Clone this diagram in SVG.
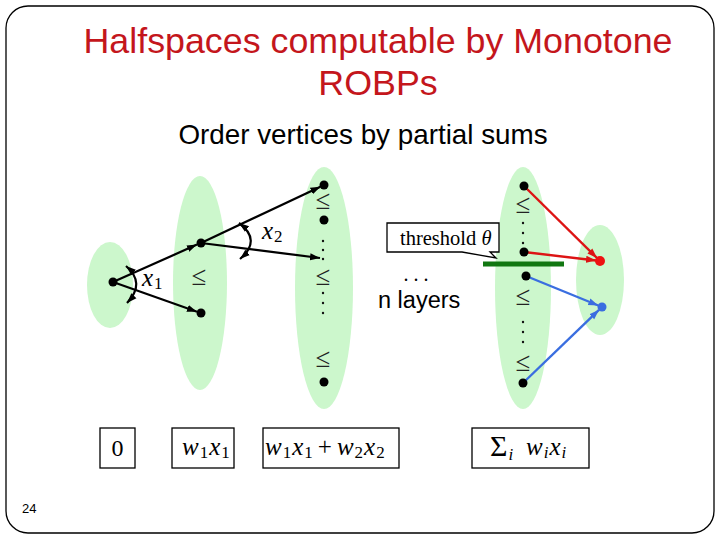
<svg xmlns="http://www.w3.org/2000/svg" width="720" height="540" viewBox="0 0 720 540">
<style>
.sans{font-family:"Liberation Sans",Arial,sans-serif}
.ser{font-family:"Liberation Serif","Times New Roman",serif}
.it{font-family:"Liberation Serif","Times New Roman",serif;font-style:italic}
.layer{fill:#ccf7cc;stroke:none}
.dot{fill:#000}
.le{font-family:"Liberation Serif","DejaVu Serif",serif;font-size:27px;fill:#222;text-anchor:middle}
.vd{fill:#111}
.box{fill:#fff;stroke:#000;stroke-width:1.3}
.arr{fill:none;stroke:#000;stroke-width:2.2}
.red{fill:none;stroke:#dd1414;stroke-width:2.4}
.blue{fill:none;stroke:#3a6ee0;stroke-width:2.4}
.sub{font-style:normal;font-size:17px}
.isub{font-size:17px}
</style>
<defs>
<marker id="ah" markerUnits="userSpaceOnUse" markerWidth="11" markerHeight="9" viewBox="0 0 11 9" refX="10" refY="4.5" orient="auto-start-reverse"><path d="M0,1 L10,4.5 L0,8 Z" fill="#000"/></marker>
<marker id="ahr" markerUnits="userSpaceOnUse" markerWidth="11" markerHeight="9" viewBox="0 0 11 9" refX="10" refY="4.5" orient="auto"><path d="M0,1 L10,4.5 L0,8 Z" fill="#dd1414"/></marker>
<marker id="ahb" markerUnits="userSpaceOnUse" markerWidth="11" markerHeight="9" viewBox="0 0 11 9" refX="10" refY="4.5" orient="auto"><path d="M0,1 L10,4.5 L0,8 Z" fill="#3a6ee0"/></marker>
</defs>

<rect id="frame" x="6" y="6" width="708" height="527" rx="22" ry="22" fill="#fff" stroke="#000" stroke-width="1.3"/>

<g id="title" class="sans" fill="#c4161c" font-size="35.8" text-anchor="middle">
<text x="378" y="53">Halfspaces computable by Monotone</text>
<text x="378" y="95">ROBPs</text>
</g>
<g id="subtitle"><text class="sans" x="363" y="144" font-size="27.8" text-anchor="middle" fill="#000">Order vertices by partial sums</text></g>

<g id="layers">
<ellipse id="layer0" class="layer" cx="110" cy="285" rx="23" ry="43"/>
<ellipse id="layer1" class="layer" cx="200" cy="283" rx="27" ry="107"/>
<ellipse id="layer2" class="layer" cx="324" cy="288" rx="29" ry="121"/>
<ellipse id="layerN" class="layer" cx="523" cy="288" rx="28" ry="121"/>
<ellipse id="sink" class="layer" cx="600" cy="280" rx="24" ry="55"/>
</g>

<g id="connectors">
<line class="arr" x1="113" y1="282" x2="197" y2="244.6" marker-end="url(#ah)"/>
<line class="arr" x1="113" y1="282" x2="197" y2="311.7" marker-end="url(#ah)"/>
<line class="arr" x1="201" y1="243" x2="320.4" y2="186.7" marker-end="url(#ah)"/>
<line class="arr" x1="201" y1="243" x2="320" y2="258" marker-end="url(#ah)"/>
<path class="arr" d="M126,266 Q146,283 127,303" marker-start="url(#ah)" marker-end="url(#ah)"/>
<path class="arr" d="M239,223 Q262,240 240,259" marker-start="url(#ah)" marker-end="url(#ah)"/>
<line class="red" x1="524" y1="186" x2="597" y2="258" marker-end="url(#ahr)"/>
<line class="red" x1="524" y1="252" x2="596" y2="260.5" marker-end="url(#ahr)"/>
<line class="blue" x1="526" y1="276" x2="598.3" y2="305.5" marker-end="url(#ahb)"/>
<line class="blue" x1="523" y1="383" x2="599" y2="309.8" marker-end="url(#ahb)"/>
</g>

<g id="node-a"><circle class="dot" cx="113" cy="282" r="4.5"/></g>
<g id="node-b"><circle class="dot" cx="201" cy="243" r="4.5"/></g>
<g id="node-c"><circle class="dot" cx="201" cy="313" r="4.5"/></g>
<g id="node-d1"><circle class="dot" cx="324" cy="185" r="4.5"/></g>
<g id="node-d2"><circle class="dot" cx="324" cy="220" r="4.5"/></g>
<g id="node-d3"><circle class="dot" cx="324" cy="382" r="4.5"/></g>
<g id="node-n1"><circle class="dot" cx="524" cy="186" r="4.5"/></g>
<g id="node-n2"><circle class="dot" cx="524" cy="252" r="4.5"/></g>
<g id="node-n3"><circle class="dot" cx="526" cy="276" r="4.5"/></g>
<g id="node-n4"><circle class="dot" cx="523" cy="383" r="4.5"/></g>
<g id="node-red"><circle cx="600" cy="261" r="5" fill="#ee1111"/></g>
<g id="node-blue"><circle cx="602" cy="307" r="4.5" fill="#3a6ee0"/></g>

<g id="order-marks">
<text class="le" x="199" y="285">≤</text>
<text class="le" x="323" y="209">≤</text>
<text class="le" x="323" y="285">≤</text>
<text class="le" x="323" y="367">≤</text>
<text class="le" x="523" y="213">≤</text>
<text class="le" x="523" y="305">≤</text>
<text class="le" x="523" y="371">≤</text>
<circle class="vd" cx="323" cy="241" r="1.2"/><circle class="vd" cx="323" cy="250" r="1.2"/><circle class="vd" cx="323" cy="259" r="1.2"/>
<circle class="vd" cx="323" cy="293" r="1.2"/><circle class="vd" cx="323" cy="303" r="1.2"/><circle class="vd" cx="323" cy="313" r="1.2"/>
<circle class="vd" cx="523" cy="223" r="1.2"/><circle class="vd" cx="523" cy="233" r="1.2"/><circle class="vd" cx="523" cy="243" r="1.2"/>
<circle class="vd" cx="523" cy="322" r="1.2"/><circle class="vd" cx="523" cy="332" r="1.2"/><circle class="vd" cx="523" cy="342" r="1.2"/>
</g>

<g id="label-x1"><text class="it" x="142" y="286" font-size="25">x<tspan class="sub" dy="3" dx="1">1</tspan></text></g>
<g id="label-x2"><text class="it" x="262" y="239" font-size="25">x<tspan class="sub" dy="3" dx="1">2</tspan></text></g>

<g id="threshold">
<path class="box" d="M387,223 H499 V252 H490 L496,258 L462,252 H387 Z"/>
<text class="ser" x="400" y="245" font-size="20.5">threshold <tspan font-style="italic">θ</tspan></text>
<line x1="483" y1="264" x2="564" y2="264" stroke="#117711" stroke-width="5"/>
</g>

<g id="n-layers">
<text class="ser" x="416" y="281" font-size="20" text-anchor="middle">. . .</text>
<text class="sans" x="378" y="308" font-size="23.5">n layers</text>
</g>

<g id="sum0"><rect class="box" x="100" y="428" width="35" height="40"/><text class="ser" x="117.5" y="456" font-size="24" text-anchor="middle">0</text></g>
<g id="sum1"><rect class="box" x="172" y="428" width="62" height="40"/><text class="it" x="182" y="455" font-size="25">w<tspan class="sub" dy="3" dx="1">1</tspan><tspan dy="-3" dx="1">x</tspan><tspan class="sub" dy="3" dx="1">1</tspan></text></g>
<g id="sum2"><rect class="box" x="263" y="428" width="136" height="40"/><text class="it" x="265" y="455" font-size="25">w<tspan class="sub" dy="3" dx="1">1</tspan><tspan dy="-3" dx="1">x</tspan><tspan class="sub" dy="3" dx="1">1</tspan><tspan font-style="normal" dy="-3" dx="5">+</tspan><tspan dx="5">w</tspan><tspan class="sub" dy="3" dx="1">2</tspan><tspan dy="-3" dx="1">x</tspan><tspan class="sub" dy="3" dx="1">2</tspan></text></g>
<g id="sumN"><rect class="box" x="472" y="428" width="117" height="40"/><text class="ser" x="490" y="456" font-size="30">Σ<tspan font-style="italic" font-size="17" dy="4" dx="1">i</tspan></text><text class="it" x="526" y="455" font-size="25">w<tspan class="isub" dy="3" dx="1">i</tspan><tspan dy="-3" dx="1">x</tspan><tspan class="isub" dy="3" dx="1">i</tspan></text></g>

<g id="page"><text class="sans" x="22" y="513" font-size="13">24</text></g>
</svg>
